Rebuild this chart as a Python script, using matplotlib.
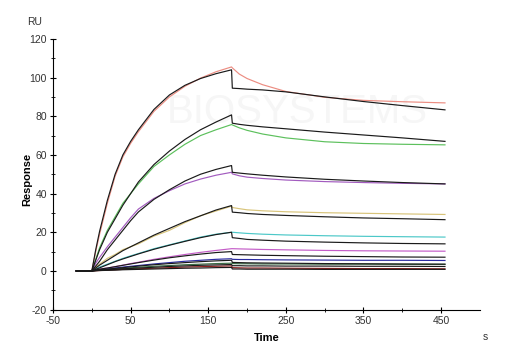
import numpy as np
import matplotlib.pyplot as plt
from matplotlib.ticker import MultipleLocator, FixedLocator

# =========================================================
# DATA
# =========================================================

time_s = [-20, 0, 5, 10, 20, 30, 40, 50, 60, 80, 100, 120, 140, 160, 180,
          181, 190, 200, 220, 250, 300, 350, 400, 455]

# measured curves
red_data = [0, 0, 10, 19, 35, 49, 59, 66, 72, 82.5, 90, 95.5, 99.7, 103, 105.5,
            105, 101.8, 99.5, 96.3, 92.8, 89.8, 88.2, 87.5, 86.9]
green_data = [0, 0, 6, 12, 21, 28, 35, 40, 45, 54, 60, 65.5, 70, 73, 75.7,
              75.5, 74, 72.7, 70.8, 68.8, 66.8, 65.9, 65.5, 65.2]
purple_data = [0, 0, 4, 7, 12.5, 17.5, 22.5, 27.5, 32, 37.5, 41.5, 45, 47.5, 49.5, 51,
               50.2, 49.2, 48.5, 47.8, 47, 46.2, 45.7, 45.3, 45]
yellow_data = [0, 0, 2, 3.5, 6.5, 8.5, 11, 12.5, 14, 18, 21, 25, 28.5, 31, 33.5,
               32.8, 32.2, 31.6, 31.1, 30.6, 30.1, 29.8, 29.5, 29.2]
cyan_data = [0, 0, 1, 2, 3.5, 5, 6.5, 7.8, 9, 11.5, 13.5, 15.5, 17.5, 19, 20,
             20, 19.7, 19.4, 19, 18.6, 18.2, 17.9, 17.7, 17.5]
magenta_data = [0, 0, 0.5, 1, 1.5, 2.2, 3, 3.8, 4.5, 6, 7.3, 8.5, 9.6, 10.6, 11.5,
                11.5, 11.4, 11.3, 11.1, 10.9, 10.6, 10.4, 10.3, 10.2]
blue_data = [0, 0, 0.3, 0.6, 1, 1.5, 2, 2.4, 2.8, 3.6, 4.3, 5, 5.5, 6, 6.3,
             6, 5.9, 5.9, 5.8, 5.7, 5.6, 5.5, 5.5, 5.4]
darkgreen_data = [0, 0, 0.2, 0.4, 0.7, 1, 1.3, 1.6, 1.9, 2.4, 2.8, 3.2, 3.5, 3.8, 4,
                  3.8, 3.7, 3.7, 3.6, 3.6, 3.5, 3.5, 3.4, 3.4]
darkred_data = [0, 0, 0.1, 0.2, 0.4, 0.6, 0.8, 1, 1.1, 1.4, 1.7, 2, 2.2, 2.4, 2.6,
                1.7, 1.6, 1.5, 1.5, 1.4, 1.3, 1.2, 1.2, 1.1]

# fitted curves (black)
fit_1 = [0, 0, 11, 20.5, 36.5, 50, 60, 67, 73, 83.5, 91, 96, 99.5, 102, 104,
         94.5, 94.3, 94, 93.6, 92.6, 90, 87.6, 85.5, 83.3]
fit_2 = [0, 0, 5.5, 11, 20, 27, 34, 40, 46, 55, 62, 68, 73, 77, 80.7,
         76.4, 75.8, 75.3, 74.5, 73.5, 71.8, 70.3, 68.8, 67]
fit_3 = [0, 0, 2.5, 5, 11, 16, 21, 26, 30.5, 37, 42, 46.5, 50, 52.5, 54.5,
         51, 50.6, 50.2, 49.5, 48.6, 47.4, 46.5, 45.7, 45]
fit_4 = [0, 0, 1.5, 3, 5.5, 8, 10.5, 12.5, 14.5, 18.5, 22, 25.5, 28.5, 31.5, 33.8,
         30.4, 30.1, 29.7, 29.2, 28.7, 28, 27.4, 27, 26.5]
fit_5 = [0, 0, 0.8, 1.6, 3.2, 4.8, 6.2, 7.5, 8.8, 11.2, 13.3, 15.3, 17.2, 18.8, 20,
         17.2, 16.8, 16.3, 15.9, 15.4, 14.9, 14.5, 14.2, 14]
fit_6 = [0, 0, 0.5, 0.9, 1.5, 2.2, 2.9, 3.6, 4.3, 5.6, 6.8, 7.8, 8.7, 9.5, 10,
         8.5, 8.4, 8.3, 8.1, 7.9, 7.6, 7.4, 7.2, 7.1]
fit_7 = [0, 0, 0.3, 0.5, 0.9, 1.3, 1.7, 2.1, 2.5, 3.2, 3.8, 4.3, 4.8, 5.2, 5.5,
         4.4, 4.3, 4.2, 4.1, 4, 3.8, 3.7, 3.6, 3.5]
fit_8 = [0, 0, 0.2, 0.3, 0.6, 0.8, 1.1, 1.3, 1.5, 1.9, 2.3, 2.6, 2.9, 3.1, 3.3,
         2.7, 2.7, 2.6, 2.6, 2.5, 2.5, 2.4, 2.4, 2.3]
fit_9 = [0, 0, 0.1, 0.2, 0.3, 0.4, 0.6, 0.7, 0.8, 1, 1.2, 1.4, 1.5, 1.7, 1.8,
         1.0, 1.0, 0.9, 0.9, 0.9, 0.8, 0.8, 0.8, 0.8]

data_curves = [
    (red_data, "#ec8d82"),
    (green_data, "#5cc05c"),
    (purple_data, "#a25bbf"),
    (yellow_data, "#d8c47a"),
    (cyan_data, "#4cc8c8"),
    (magenta_data, "#c45cc8"),
    (blue_data, "#2a2aa0"),
    (darkgreen_data, "#3a6e44"),
    (darkred_data, "#8c1e1e"),
]
fit_curves = [fit_1, fit_2, fit_3, fit_4, fit_5, fit_6, fit_7, fit_8, fit_9]

# =========================================================
# PLOT
# =========================================================

plt.rcParams["font.family"] = ["Liberation Sans", "DejaVu Sans"]
plt.rcParams["axes.unicode_minus"] = False

fig = plt.figure(figsize=(5.1, 3.6), dpi=100)
ax = fig.add_axes([0.104, 0.14, 0.837, 0.752])

# faint watermark
ax.text(265, 82, "BIOSYSTEMS", fontsize=29, color="#f6f6f6",
        ha="center", va="center", zorder=0)

for values, color in data_curves:
    ax.plot(time_s, values, color=color, lw=0.85, zorder=2)

for values in fit_curves:
    ax.plot(time_s, values, color="#1a1a1a", lw=0.85, zorder=3)

ax.set_xlim(-50, 500)
ax.set_ylim(-20, 120)

ax.xaxis.set_major_locator(FixedLocator([-50, 50, 150, 250, 350, 450]))
ax.xaxis.set_minor_locator(FixedLocator([0, 100, 200, 300, 400]))
ax.yaxis.set_major_locator(MultipleLocator(20))
ax.yaxis.set_minor_locator(MultipleLocator(10))

ax.tick_params(which="major", direction="inout", length=5, width=0.8,
               labelsize=7.5, labelcolor="#333333", pad=2)
ax.tick_params(which="minor", direction="inout", length=3, width=0.6)

for side in ["top", "right"]:
    ax.spines[side].set_visible(False)
for side in ["left", "bottom"]:
    ax.spines[side].set_linewidth(0.8)

ax.set_ylabel("Response", fontsize=8, fontweight="bold")
ax.yaxis.set_label_coords(-0.048, 0.48)
ax.set_xlabel("Time", fontsize=8, fontweight="bold", labelpad=5)

fig.text(35 / 510, 1 - 22 / 360, "RU", fontsize=7.5, color="#333333",
         ha="center", va="center")
fig.text(485 / 510, 1 - 337 / 360, "s", fontsize=7.5, color="#333333",
         ha="center", va="center")

fig.savefig("out.png", dpi=100)
